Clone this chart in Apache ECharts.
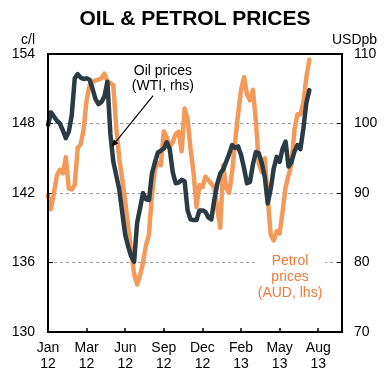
<!DOCTYPE html>
<html><head><meta charset="utf-8">
<script src="https://cdn.jsdelivr.net/npm/echarts@6/dist/echarts.min.js"></script>
<style>html,body{margin:0;padding:0;background:#fff}#c{width:390px;height:375px}</style>
</head><body><div id="c"></div>
<script>
// x axis: weeks since start of Jan 2012
const tickLabels = ['Jan\n12','Mar\n12','Jun\n12','Sep\n12','Dec\n12','Feb\n13','May\n13','Aug\n13'];
const weeksPerTick = 13;
const axisWeeks = 99;
const leftTicks = [130, 154, 6];   // c/l
const rightTicks = [70, 110, 10];  // USDpb

// Petrol prices (AUD, c/l, lhs) weekly
const petrol = [141.8,140.6,142.0,143.5,144.0,143.7,145.1,142.4,142.3,142.7,
145.9,146.2,147.5,150.0,151.3,151.6,151.7,151.8,151.9,152.3,
151.6,151.5,151.3,147.6,145.0,143.2,141.3,139.1,137.0,135.0,
134.1,134.9,136.0,137.5,138.4,141.8,144.0,144.6,144.4,147.3,
146.8,146.0,146.4,147.1,147.3,145.6,149.3,148.4,145.8,143.8,
140.8,142.7,142.5,143.4,143.1,142.8,142.5,140.7,139.0,144.4,
142.4,142.0,143.8,146.4,148.8,150.9,152.0,150.5,150.0,150.9,
148.2,144.5,143.8,145.0,141.5,138.4,137.9,138.7,138.5,140.4,
142.5,143.5,144.5,147.5,148.8,148.8,149.8,152.0,153.5];

// Oil prices (WTI, USD per barrel, rhs) weekly
const oil = [99.8,101.6,101.0,100.4,100.0,99.0,97.9,98.8,101.2,106.5,
107.1,106.6,106.4,106.5,106.3,105.0,103.5,102.8,103.1,103.9,
106.0,98.5,94.5,92.5,90.5,87.2,84.0,82.3,80.9,80.1,
85.7,87.8,90.0,89.1,89.0,92.8,94.4,95.8,96.1,96.4,
97.3,96.3,93.0,91.4,91.5,91.9,91.7,87.5,86.2,86.1,
86.1,87.5,87.5,87.3,86.5,86.2,89.0,91.3,92.8,93.4,
94.5,95.6,96.9,96.5,96.7,95.5,93.6,91.4,91.6,94.1,
95.9,95.7,94.3,92.3,88.5,90.6,93.5,95.2,94.5,96.4,
97.4,93.8,94.5,96.0,96.9,96.3,99.3,103.0,104.8];

const FONT = '"Liberation Sans", Arial, sans-serif';
const chart = echarts.init(document.getElementById('c'), null, {renderer: 'canvas'});

const labelStyle = {color: '#000', fontSize: 14, fontFamily: FONT};

chart.setOption({
  animation: false,
  backgroundColor: '#fff',
  title: {
    text: 'OIL & PETROL PRICES', left: 'center', top: 4,
    textStyle: {fontSize: 21, fontWeight: 'bold', color: '#000', fontFamily: FONT}
  },
  grid: {left: 48, right: 48, top: 54, bottom: 43},
  xAxis: {
    type: 'value', min: 0, max: axisWeeks, interval: weeksPerTick,
    axisLine: {show: false},
    axisTick: {show: true, inside: true, length: 4, lineStyle: {color: '#000', width: 1.5}},
    splitLine: {show: false},
    axisLabel: Object.assign({}, labelStyle, {
      margin: 8, lineHeight: 16, showMaxLabel: false,
      formatter: v => (v % weeksPerTick === 0 && tickLabels[v / weeksPerTick]) ? tickLabels[v / weeksPerTick] : ''
    })
  },
  yAxis: [
    {
      type: 'value', min: leftTicks[0], max: leftTicks[1], interval: leftTicks[2],
      axisLine: {show: false},
      axisTick: {show: true, inside: true, length: 5, lineStyle: {color: '#000', width: 1}},
      axisLabel: Object.assign({}, labelStyle, {margin: 13}),
      splitLine: {show: true, lineStyle: {color: '#999', type: [3, 3], width: 1}}
    },
    {
      type: 'value', min: rightTicks[0], max: rightTicks[1], interval: rightTicks[2],
      position: 'right',
      axisLine: {show: false},
      axisTick: {show: true, inside: true, length: 5, lineStyle: {color: '#000', width: 1}},
      axisLabel: Object.assign({}, labelStyle, {margin: 12}),
      splitLine: {show: false}
    }
  ],
  series: [
    {
      name: 'Petrol prices (AUD, lhs)', type: 'line', yAxisIndex: 0,
      data: petrol.map((v, i) => [i, v]),
      showSymbol: false, symbol: 'none',
      lineStyle: {color: '#F39A5A', width: 4.5, join: 'round', cap: 'round'}
    },
    {
      name: 'Oil prices (WTI, rhs)', type: 'line', yAxisIndex: 1,
      data: oil.map((v, i) => [i, v]),
      showSymbol: false, symbol: 'none',
      lineStyle: {color: '#2B3B43', width: 4.5, join: 'round', cap: 'round'}
    }
  ]
});

// annotations placed through the axes' scales
const pL = d => chart.convertToPixel({xAxisIndex: 0, yAxisIndex: 0}, d);
const pR = d => chart.convertToPixel({xAxisIndex: 0, yAxisIndex: 1}, d);
const tl = pL([0, leftTicks[1]]), br = pL([axisWeeks, leftTicks[0]]);
const oilTxt = pR([38.7, 106.4]);
const petTxt = pL([81.5, 134.7]);
const a0 = pR([35.4, 104.0]), a1 = pR([21.45, 96.66]);
const ang = Math.atan2(a1[1] - a0[1], a1[0] - a0[0]);
const hl = 7, hw = 3;
const bx = a1[0] - hl * Math.cos(ang), by = a1[1] - hl * Math.sin(ang);
const head = [[a1[0], a1[1]],
  [bx + hw * Math.sin(ang), by - hw * Math.cos(ang)],
  [bx - hw * Math.sin(ang), by + hw * Math.cos(ang)]];

chart.setOption({
  graphic: [
    {type: 'rect', z: 100, silent: true,
     shape: {x: tl[0], y: tl[1], width: br[0] - tl[0], height: br[1] - tl[1]},
     style: {fill: null, stroke: '#000', lineWidth: 2}},
    {type: 'text', z: 50, style: {text: 'c/l', x: 35, y: 40, align: 'right', verticalAlign: 'middle',
      fill: '#000', font: '14px ' + FONT}},
    {type: 'text', z: 50, style: {text: 'USDpb', x: 332, y: 40, align: 'left', verticalAlign: 'middle',
      fill: '#000', font: '14px ' + FONT}},
    {type: 'text', z: 50, style: {text: 'Oil prices\n(WTI, rhs)', x: oilTxt[0], y: oilTxt[1],
      align: 'center', verticalAlign: 'middle', fill: '#000', font: '14px ' + FONT, lineHeight: 15}},
    {type: 'text', z: 50, style: {text: 'Petrol\nprices\n(AUD, lhs)', x: petTxt[0], y: petTxt[1],
      align: 'center', verticalAlign: 'middle', fill: '#EE7A3A', font: '14px ' + FONT, lineHeight: 16,
      backgroundColor: '#fff', padding: [0, 3]}},
    {type: 'line', z: 60, shape: {x1: a0[0], y1: a0[1], x2: bx, y2: by},
      style: {stroke: '#000', lineWidth: 1.2}},
    {type: 'polygon', z: 60, shape: {points: head}, style: {fill: '#000'}}
  ]
});
</script>
</body></html>
